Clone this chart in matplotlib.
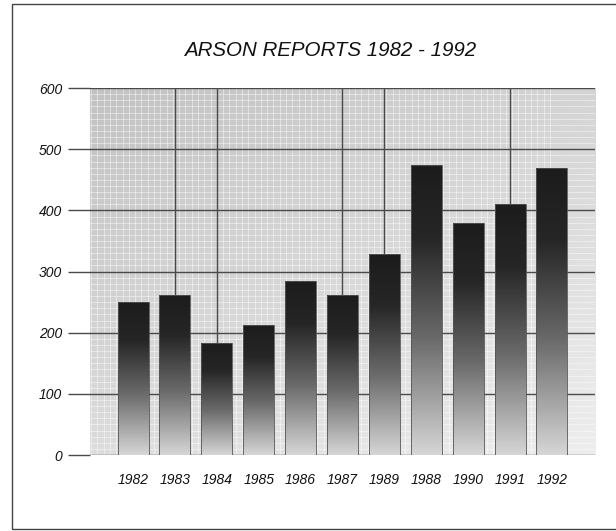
import matplotlib
matplotlib.use("Agg")
import matplotlib.pyplot as plt
import numpy as np
from matplotlib import font_manager
from matplotlib.colors import LinearSegmentedColormap
from matplotlib.patches import Rectangle

# values (category order kept as printed)
years = ["1982", "1983", "1984", "1985", "1986", "1987", "1989", "1988", "1990", "1991", "1992"]
reports = [250, 261, 184, 213, 285, 262, 328, 474, 379, 410, 469]
y_ticks = [0, 100, 200, 300, 400, 500, 600]
y_labels = ["0", "100", "200", "300", "400", "500", "600"]
# the original only draws vertical rules behind some of the bars
v_rules = ["1983", "1984", "1987", "1989", "1991"]

names = {f.name for f in font_manager.fontManager.ttflist}
narrow = "Liberation Sans Narrow" if "Liberation Sans Narrow" in names else "Liberation Sans"

fig = plt.figure(figsize=(6.16, 5.31), dpi=100)
ax = fig.add_axes([0.146, 0.143, 0.82, 0.691])

x = np.arange(len(years))
xlim = (-1.03, len(years) - 1 + 1.03)
ylim = (0, 600)

# shaded backdrop, darker top-left, lighter bottom-right
gx, gy = np.meshgrid(np.linspace(0, 1, 200), np.linspace(0, 1, 200))
bg = 0.76 + 0.07 * gx + 0.10 * gy
ax.imshow(bg, extent=[*xlim, *ylim], aspect="auto", cmap="gray",
          vmin=0, vmax=1, zorder=0, interpolation="bilinear")

# fine screen texture
ax.set_yticks(np.arange(0, 601, 10), minor=True)
ax.set_xticks(np.arange(-1.0, 10.05, 0.15), minor=True)
ax.grid(which="minor", color="white", linewidth=0.7, alpha=0.45, zorder=1)
ax.tick_params(which="minor", length=0)

for yv in y_ticks:
    ax.axhline(yv, color="#4a4a4a", linewidth=1.0, zorder=2)
for yr in v_rules:
    ax.axvline(years.index(yr), color="#4a4a4a", linewidth=1.0, zorder=2)

bar_cmap = LinearSegmentedColormap.from_list(
    "bar", [(0.0, "#1c1c1c"), (0.25, "#262626"), (0.6, "#6a6a6a"), (1.0, "#d6d6d6")])
grad = np.linspace(0, 1, 256).reshape(-1, 1)

bars = ax.bar(x, reports, width=0.74, facecolor="none", edgecolor="#555555",
              linewidth=0.6, zorder=4)
for b in bars:
    im = ax.imshow(grad, cmap=bar_cmap, aspect="auto", zorder=3,
                   extent=[b.get_x(), b.get_x() + b.get_width(), 0, b.get_height()])
    im.set_clip_path(b)

ax.set_xlim(*xlim)
ax.set_ylim(*ylim)

ax.set_xticks(x)
ax.set_xticklabels(years, family=narrow, style="italic", fontsize=10, color="#111111")
ax.set_yticks(y_ticks)
ax.set_yticklabels(y_labels, family=narrow, style="italic", fontsize=10, color="#111111")
ax.tick_params(axis="x", which="major", length=0, pad=13)
ax.tick_params(axis="y", which="major", length=16, width=1.0, color="#4a4a4a", pad=4)

for side in ["left", "right", "top", "bottom"]:
    ax.spines[side].set_visible(False)

fig.text(330 / 616, 1 - 50 / 531, "ARSON REPORTS 1982 - 1992", ha="center", va="center",
         family="Liberation Sans", style="italic", fontsize=14.8, color="#111111")

fig.add_artist(Rectangle((12 / 616, 2 / 531), 1.0, 525 / 531, transform=fig.transFigure,
                         fill=False, edgecolor="#444444", linewidth=1.0))

fig.savefig("out.png", dpi=100)
